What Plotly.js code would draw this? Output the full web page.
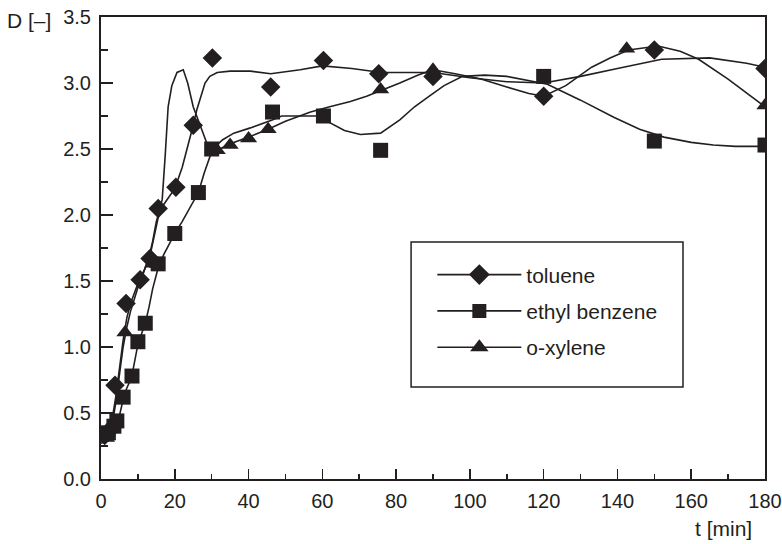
<!DOCTYPE html>
<html>
<head>
<meta charset="utf-8">
<script src="https://cdn.plot.ly/plotly-3.0.1.min.js"></script>
<style>html,body{margin:0;padding:0;background:#fff;}#chart{width:782px;height:544px;}</style>
</head>
<body>
<div id="chart"></div>
<script>
// ---- measured points ----
var tolueneT = [1.0, 2.8, 3.8, 6.8, 10.6, 13.3, 15.5, 20.3, 25.0, 30.2, 46.0, 60.3, 75.3, 90.0, 120.0, 150.0, 180.0];
var tolueneD = [0.33, 0.38, 0.71, 1.33, 1.51, 1.67, 2.05, 2.21, 2.68, 3.19, 2.97, 3.17, 3.07, 3.05, 2.90, 3.25, 3.11];

var ethylT = [2.0, 3.5, 4.3, 6.0, 8.4, 10.0, 12.0, 15.5, 20.0, 26.4, 30.0, 46.5, 60.3, 75.8, 120.0, 150.0, 180.0];
var ethylD = [0.35, 0.40, 0.44, 0.62, 0.78, 1.04, 1.18, 1.63, 1.86, 2.17, 2.50, 2.78, 2.75, 2.49, 3.05, 2.56, 2.53];

var xyleneT = [1.5, 3.0, 6.5, 14.0, 31.5, 35.0, 40.0, 45.3, 75.8, 90.0, 142.5, 180.0];
var xyleneD = [0.31, 0.42, 1.11, 1.63, 2.49, 2.53, 2.58, 2.65, 2.95, 3.10, 3.26, 2.83];

// ---- model curves ----
var tolueneFitT = [0, 1, 2, 3, 4, 5, 6, 7, 8, 10, 12, 13.5, 15.5, 17, 18.5, 20, 22, 24, 25, 26, 27, 28.2, 29.5, 31.5, 35, 40.5, 46, 54, 60, 68, 76, 90, 100, 110, 120, 130, 140, 152, 165, 175, 180];
var tolueneFitD = [0.30, 0.31, 0.34, 0.45, 0.62, 0.85, 1.05, 1.22, 1.33, 1.48, 1.60, 1.72, 1.98, 2.08, 2.14, 2.20, 2.36, 2.56, 2.68, 2.80, 2.90, 3.00, 3.05, 3.08, 3.09, 3.09, 3.07, 3.10, 3.13, 3.11, 3.08, 3.08, 3.04, 3.01, 3.00, 3.05, 3.11, 3.18, 3.19, 3.15, 3.12];

var ethylFitT = [0, 2, 4, 5, 6, 7, 8, 8.5, 9.5, 10, 11, 12, 13, 14, 15.5, 17, 18.5, 20, 22, 24, 26.4, 28, 30, 31, 33, 36, 40.5, 46.4, 49, 55, 60.3, 62, 66, 70.3, 75.8, 81, 85, 89, 93, 98, 104, 110, 116, 121, 130, 139, 146, 152.6, 160, 166, 172, 180];
var ethylFitD = [0.27, 0.29, 0.36, 0.48, 0.60, 0.69, 0.75, 0.80, 0.94, 1.02, 1.10, 1.18, 1.30, 1.44, 1.60, 1.70, 1.78, 1.86, 1.95, 2.05, 2.17, 2.32, 2.48, 2.52, 2.57, 2.62, 2.66, 2.72, 2.75, 2.75, 2.75, 2.70, 2.64, 2.61, 2.62, 2.72, 2.82, 2.90, 2.98, 3.05, 3.06, 3.05, 3.02, 2.99, 2.87, 2.74, 2.65, 2.59, 2.55, 2.53, 2.52, 2.52];

var xyleneFitT = [0, 1, 2, 3, 4, 5, 6, 7, 8, 9, 10, 11, 12, 13, 14, 15, 16, 16.6, 17.4, 18.2, 19.2, 20.6, 22.3, 23.5, 25, 27, 29, 30.5, 33, 36, 40, 45.3, 50, 56.8, 62, 67.6, 72, 75.8, 81, 86, 90, 96, 103, 110, 116, 120, 126, 133, 138, 143, 151, 157, 162, 170, 180];
var xyleneFitD = [0.28, 0.30, 0.33, 0.40, 0.58, 0.80, 1.00, 1.15, 1.27, 1.36, 1.45, 1.52, 1.60, 1.68, 1.80, 1.95, 2.05, 2.12, 2.45, 2.82, 2.98, 3.08, 3.10, 3.00, 2.82, 2.67, 2.52, 2.48, 2.51, 2.55, 2.59, 2.65, 2.71, 2.78, 2.82, 2.86, 2.90, 2.94, 3.00, 3.06, 3.10, 3.07, 3.03, 2.97, 2.92, 2.90, 2.98, 3.12, 3.19, 3.25, 3.28, 3.24, 3.18, 3.03, 2.82];

var seriesNames = ['toluene', 'ethyl benzene', 'o-xylene'];

// ---- styling ----
var ink = '#231f20';
var fontFam = 'Liberation Sans, Arial, Helvetica, sans-serif';
var fs = 21;
var tickFs = 20;
var lineStyle = {color: ink, width: 1.6};

function curve(x, y) {
  return {x: x, y: y, type: 'scatter', mode: 'lines', line: lineStyle, showlegend: false, hoverinfo: 'skip'};
}
function pts(x, y, sym, size) {
  return {x: x, y: y, type: 'scatter', mode: 'markers', showlegend: false,
          marker: {symbol: sym, size: size, color: ink, line: {width: 0}}};
}
function legendEntry(name, sym, size, grp) {
  return {x: [null], y: [null], type: 'scatter', mode: 'lines+markers', name: name, legendgroup: grp,
          line: lineStyle, marker: {symbol: sym, size: size, color: ink, line: {width: 0}}};
}

var data = [
  curve(tolueneFitT, tolueneFitD),
  curve(ethylFitT, ethylFitD),
  curve(xyleneFitT, xyleneFitD),
  pts(tolueneT, tolueneD, 'diamond', 15),
  pts(ethylT, ethylD, 'square', 15),
  pts(xyleneT, xyleneD, 'triangle-up', 15),
  legendEntry(seriesNames[0], 'diamond', 16, 'a'),
  legendEntry(seriesNames[1], 'square', 14, 'b'),
  legendEntry(seriesNames[2], 'triangle-up', 16, 'c')
];

var axisCommon = {
  showline: true, linecolor: ink, linewidth: 2, mirror: true,
  showgrid: false, zeroline: false,
  ticks: 'inside', tickcolor: ink, tickwidth: 1.5,
  ticklabeloverflow: 'allow',
  tickfont: {family: fontFam, size: tickFs, color: ink}
};

var layout = {
  width: 782, height: 544,
  margin: {l: 101, r: 17, t: 17, b: 65},
  paper_bgcolor: '#ffffff', plot_bgcolor: '#ffffff',
  font: {family: fontFam, size: fs, color: ink},
  xaxis: Object.assign({}, axisCommon, {
    range: [0, 180], dtick: 20, tick0: 0, ticklen: 10,
    minor: {dtick: 10, ticks: 'inside', ticklen: 5, tickcolor: ink, tickwidth: 1.5, showgrid: false},
    ticklabelstandoff: 3
  }),
  yaxis: Object.assign({}, axisCommon, {
    range: [0, 3.5], dtick: 0.5, tick0: 0, ticklen: 12, tickformat: '.1f',
    minor: {dtick: 0.25, ticks: 'inside', ticklen: 7, tickcolor: ink, tickwidth: 1.5, showgrid: false},
    ticklabelstandoff: 4
  }),
  showlegend: true,
  legend: {
    x: 0.499, y: 0.486, xanchor: 'left', yanchor: 'top',
    bgcolor: 'rgba(0,0,0,0)', borderwidth: 0,
    font: {family: fontFam, size: fs, color: ink},
    tracegroupgap: 6, itemwidth: 84
  },
  shapes: [{
    type: 'rect', xref: 'paper', yref: 'paper',
    x0: 0.467, x1: 0.8765, y0: 0.199, y1: 0.513,
    line: {color: ink, width: 1.5}, fillcolor: 'rgba(0,0,0,0)', layer: 'below'
  }],
  annotations: [
    {text: 'D [–]', xref: 'paper', yref: 'paper', x: -0.072, y: 1, xanchor: 'right', yanchor: 'middle',
     yshift: -3, showarrow: false, font: {family: fontFam, size: fs, color: ink}},
    {text: 't [min]', xref: 'paper', yref: 'paper', x: 0.984, y: -0.108, xanchor: 'right', yanchor: 'middle',
     showarrow: false, font: {family: fontFam, size: fs, color: ink}}
  ]
};

Plotly.newPlot('chart', data, layout, {staticPlot: true, displayModeBar: false});
</script>
</body>
</html>
